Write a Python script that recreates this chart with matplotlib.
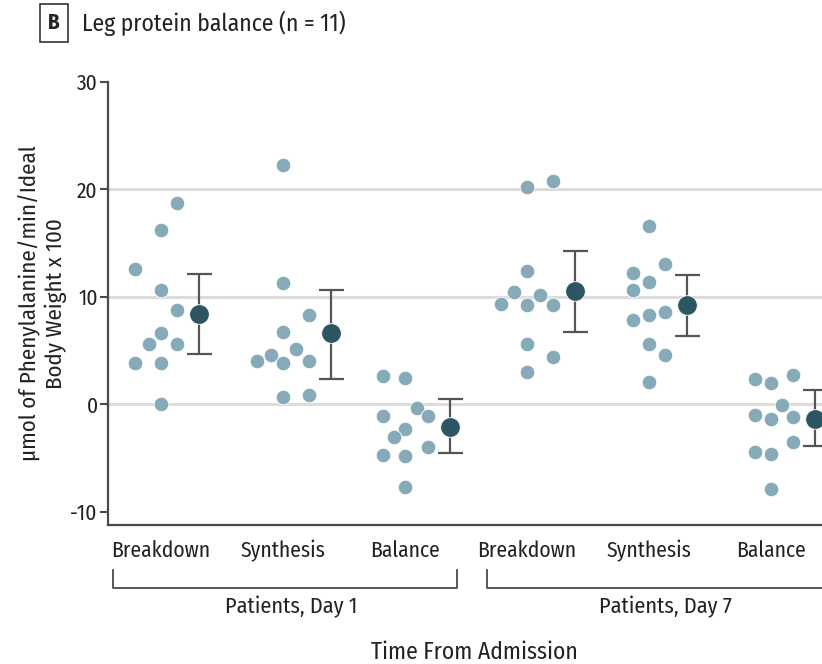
import matplotlib
matplotlib.use("Agg")
import matplotlib.pyplot as plt
from matplotlib.transforms import blended_transform_factory

plt.rcParams['font.family'] = ['Fira Sans Condensed', 'Roboto Condensed', 'IBM Plex Sans Condensed',
                               'Archivo Narrow', 'PT Sans Narrow', 'DejaVu Sans']

categories = ["Breakdown", "Synthesis", "Balance", "Breakdown", "Synthesis", "Balance"]
periods = ["Patients, Day 1", "Patients, Day 7"]

# individual patients (n = 11 per group)
d1_breakdown = [18.7, 16.25, 12.6, 10.6, 8.8, 6.6, 5.65, 5.65, 3.85, 3.8, 0.0]
d1_synthesis = [22.3, 11.3, 8.3, 6.7, 5.1, 4.6, 4.0, 4.0, 3.8, 0.85, 0.7]
d1_balance = [2.6, 2.45, -0.35, -1.1, -1.1, -2.35, -3.1, -4.0, -4.7, -4.85, -7.7]
d7_breakdown = [20.8, 20.2, 12.4, 10.45, 10.2, 9.35, 9.2, 9.2, 5.65, 4.35, 3.0]
d7_synthesis = [16.6, 13.05, 12.25, 11.4, 10.65, 8.6, 8.35, 7.8, 5.65, 4.55, 2.1]
d7_balance = [2.75, 2.3, 2.0, -0.1, -1.05, -1.2, -1.35, -3.55, -4.45, -4.65, -7.9]

# horizontal spread of the dots (swarm slots)
d1_breakdown_jit = [0.13, 0, -0.21, 0, 0.13, 0, -0.10, 0.13, -0.21, 0, 0]
d1_synthesis_jit = [0, 0, 0.21, 0, 0.11, -0.10, -0.21, 0.21, 0, 0.21, 0]
d1_balance_jit = [-0.18, 0, 0.10, -0.18, 0.19, 0, -0.09, 0.19, -0.18, 0, 0]
d7_breakdown_jit = [0.21, 0, 0, -0.11, 0.11, -0.21, 0, 0.21, 0, 0.21, 0]
d7_synthesis_jit = [0, 0.13, -0.13, 0, -0.13, 0.13, 0, -0.13, 0, 0.13, 0]
d7_balance_jit = [0.18, -0.13, 0, 0.09, -0.13, 0.18, 0, 0.18, -0.13, 0, 0]

means = [8.4, 6.6, -2.1, 10.5, 9.2, -1.4]
ci_low = [4.65, 2.35, -4.5, 6.7, 6.35, -3.9]
ci_high = [12.1, 10.6, 0.5, 14.3, 12.0, 1.3]

grid_values = [0, 10, 20]
yticks = [-10, 0, 10, 20, 30]

values = [d1_breakdown, d1_synthesis, d1_balance, d7_breakdown, d7_synthesis, d7_balance]
jitters = [d1_breakdown_jit, d1_synthesis_jit, d1_balance_jit,
           d7_breakdown_jit, d7_synthesis_jit, d7_balance_jit]

light = '#87aab8'
dark = '#2c5663'
axis_col = '#4a4a4a'
text_col = '#222222'

fig = plt.figure(figsize=(8.22, 6.64), dpi=100)
ax = fig.add_axes([108 / 822, 1 - 525 / 664, 1 - 108 / 822, (525 - 82) / 664])

for v in grid_values:
  ax.axhline(v, color='#dcdcdc', lw=2.2, zorder=0)

for i, (vals, jit) in enumerate(zip(values, jitters)):
  xs = [i + j for j in jit]
  ax.scatter(xs, vals, s=110, color=light, edgecolors='white', linewidths=0.6, zorder=3)
  mx = i + max(jit) + 0.18
  ax.errorbar([mx], [means[i]], yerr=[[means[i] - ci_low[i]], [ci_high[i] - means[i]]],
              fmt='none', ecolor='#555555', elinewidth=1.6, capsize=9, capthick=1.6, zorder=2)
  ax.scatter([mx], [means[i]], s=200, color=dark, edgecolors='white', linewidths=0.6, zorder=4)

ax.set_xlim(-0.434, 5.418)
ax.set_ylim(-11.25, 30)
ax.set_yticks(yticks)
ax.set_yticklabels([str(t) for t in yticks], fontsize=15.5, color=text_col)
ax.set_xticks(range(len(categories)))
ax.set_xticklabels(categories, fontsize=15.5, color=text_col)
ax.tick_params(axis='x', length=0, pad=11)
ax.tick_params(axis='y', length=6, width=1.5, color=axis_col, pad=1.5)

for s in ['top', 'right']:
  ax.spines[s].set_visible(False)
for s in ['left', 'bottom']:
  ax.spines[s].set_color(axis_col)
  ax.spines[s].set_linewidth(1.6)

ax.set_ylabel('µmol of Phenylalanine/min/Ideal\nBody Weight x 100', fontsize=16.5,
              color=text_col, labelpad=2, linespacing=1.25)

# group brackets under the categories
tr = blended_transform_factory(ax.transData, ax.transAxes)
brackets = [(-0.39, 2.43), (2.67, 5.5)]
for (a, b), name in zip(brackets, periods):
  ax.plot([a, a, b, b], [-0.102, -0.142, -0.142, -0.102], transform=tr,
          color=axis_col, lw=1.3, clip_on=False)
  ax.text((a + b) / 2 + 0.05, -0.185, name, transform=tr, ha='center', va='center',
          fontsize=16, color=text_col)

ax.text(2.57, -0.287, 'Time From Admission', transform=tr, ha='center', va='center',
        fontsize=17, color=text_col)

# panel title
fig.text(54 / 822, 1 - 23 / 664, 'B', ha='center', va='center', fontsize=15,
         fontweight='bold', color=text_col,
         bbox=dict(boxstyle='square,pad=0.4', fc='white', ec='#333333', lw=1.2))
fig.text(82 / 822, 1 - 23 / 664, 'Leg protein balance (n = 11)', ha='left', va='center',
         fontsize=17, color=text_col)

fig.savefig('out.png', dpi=100)
